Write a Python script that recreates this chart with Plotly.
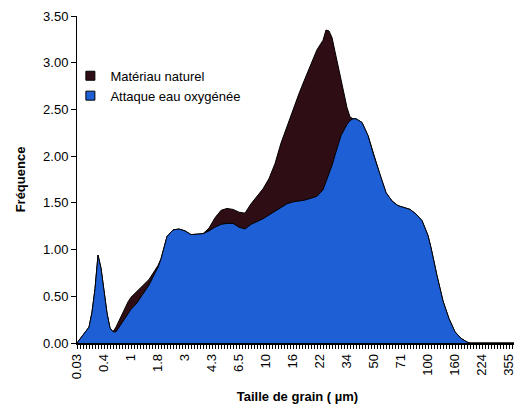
import plotly.graph_objects as go

# Class index positions along the categorical size axis
class_idx = [0, 2, 4, 5, 6, 7, 8, 9, 10, 11, 12, 13, 14, 15, 16, 17, 18, 20, 22, 24,
             26, 27, 28, 30, 32, 34, 36, 38, 42, 44, 46, 48, 50, 52, 54, 56, 58, 60,
             62, 64, 66, 68, 70, 72, 74, 76, 78, 80, 82, 83, 84, 85, 86, 88, 90, 91,
             92, 93, 95, 97, 99, 101, 103, 105, 107, 109, 111, 113, 115, 117, 118,
             120, 122, 124, 126, 128, 130, 131, 147]

attaque = [0.00, 0.08, 0.17, 0.33, 0.58, 0.94, 0.80, 0.56, 0.32, 0.16, 0.12, 0.12,
           0.17, 0.22, 0.26, 0.31, 0.36, 0.43, 0.53, 0.62, 0.75, 0.81, 0.90, 1.14,
           1.21, 1.22, 1.20, 1.16, 1.17, 1.20, 1.24, 1.27, 1.28, 1.28, 1.24, 1.22,
           1.27, 1.30, 1.33, 1.37, 1.41, 1.45, 1.49, 1.51, 1.52, 1.53, 1.55, 1.57,
           1.64, 1.72, 1.80, 1.90, 2.01, 2.22, 2.34, 2.38, 2.40, 2.40, 2.36, 2.22,
           2.00, 1.80, 1.61, 1.52, 1.47, 1.45, 1.43, 1.38, 1.31, 1.15, 1.02, 0.72,
           0.45, 0.26, 0.12, 0.05, 0.01, 0.00, 0.00]

naturel = [0.00, 0.08, 0.17, 0.33, 0.58, 0.94, 0.80, 0.56, 0.32, 0.16, 0.12, 0.17,
           0.24, 0.31, 0.37, 0.44, 0.49, 0.55, 0.62, 0.68, 0.78, 0.83, 0.90, 1.14,
           1.21, 1.22, 1.20, 1.16, 1.17, 1.23, 1.34, 1.42, 1.44, 1.43, 1.40, 1.39,
           1.49, 1.57, 1.65, 1.76, 1.92, 2.14, 2.32, 2.49, 2.67, 2.83, 2.98, 3.14,
           3.24, 3.35, 3.34, 3.27, 3.12, 2.80, 2.52, 2.42, 2.40, 2.40, 2.36, 2.22,
           2.00, 1.80, 1.61, 1.52, 1.47, 1.45, 1.43, 1.38, 1.31, 1.15, 1.02, 0.72,
           0.45, 0.26, 0.12, 0.05, 0.01, 0.00, 0.00]

tick_labels = ["0.03", "0.4", "1", "1.8", "3", "4.3", "6.5", "10", "16", "22",
               "34", "50", "71", "100", "160", "224", "355"]
classes_per_label = 9
tick_positions = [k * classes_per_label for k in range(len(tick_labels))]

DARK = "#2f0d14"
BLUE = "#1f5fd6"
FONT = "Liberation Sans, Arial, sans-serif"

fig = go.Figure()
fig.add_trace(go.Scatter(x=class_idx, y=naturel, mode="lines", fill="tozeroy",
                         fillcolor=DARK, line=dict(color="black", width=1),
                         showlegend=False, hoverinfo="skip"))
fig.add_trace(go.Scatter(x=class_idx, y=attaque, mode="lines", fill="tozeroy",
                         fillcolor=BLUE, line=dict(color="black", width=1),
                         showlegend=False, hoverinfo="skip"))
# legend entries
fig.add_trace(go.Scatter(x=[None], y=[None], mode="markers", name="Matériau naturel",
                         marker=dict(symbol="square", size=9, color=DARK,
                                     line=dict(color="black", width=1))))
fig.add_trace(go.Scatter(x=[None], y=[None], mode="markers", name="Attaque eau oxygénée",
                         marker=dict(symbol="square", size=9, color=BLUE,
                                     line=dict(color="black", width=1))))

# page body has an 8px margin, so the figure is sized to fit the window
fig.update_layout(
    width=514, height=400,
    margin=dict(l=69, r=4, t=8, b=65),
    paper_bgcolor="white", plot_bgcolor="white",
    font=dict(family=FONT, size=13, color="black"),
    showlegend=True,
    legend=dict(x=-0.015, y=0.863, xanchor="left", yanchor="top",
                bgcolor="rgba(0,0,0,0)", font=dict(size=13),
                itemwidth=30, tracegroupgap=0),
    xaxis=dict(range=[0, 147], tickmode="array", tickvals=tick_positions,
               ticktext=tick_labels, tickangle=-90, ticks="outside", ticklen=4,
               tickcolor="black", showline=True, linecolor="black", linewidth=1.5,
               showgrid=False, zeroline=False, tickfont=dict(size=13),
               automargin=False, ticklabeloverflow="allow",
               minor=dict(ticks="outside", ticklen=4, tickmode="linear", tick0=0,
                          dtick=1, tickcolor="black", showgrid=False),
               title=dict(text="<b>Taille de grain ( µm)</b>", font=dict(size=13),
                          standoff=14)),
    yaxis=dict(range=[0, 3.5], tickmode="linear", tick0=0, dtick=0.5,
               tickformat=".2f", ticks="outside", ticklen=5, tickcolor="black",
               showline=True, linecolor="black", linewidth=1, showgrid=False,
               zeroline=False, tickfont=dict(size=13), automargin=False,
               ticklabeloverflow="allow",
               title=dict(text="<b>Fréquence</b>", font=dict(size=13), standoff=14)),
)

fig.write_html("out.html")
